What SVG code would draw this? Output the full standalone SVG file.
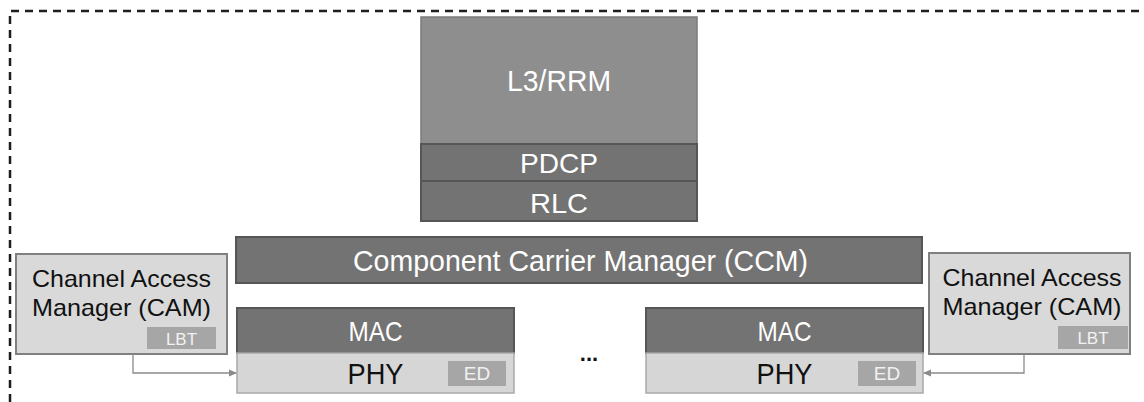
<svg xmlns="http://www.w3.org/2000/svg" width="1144" height="402" viewBox="0 0 1144 402">
<defs>
<style>
text{font-family:"Liberation Sans",Arial,sans-serif;text-anchor:middle}
.dark{fill:#737373;stroke:#565656;stroke-width:2}
.mid{fill:#8e8e8e;stroke:#7a7a7a;stroke-width:1.5}
.light{fill:#d9d9d9;stroke:#808080;stroke-width:2}
.phy{fill:#d6d6d6;stroke:#a9a9a9;stroke-width:1.5}
.tag{fill:#a6a6a6}
.w{fill:#ffffff}
.k{fill:#111111}
.tw{fill:#f2f2f2}
.conn{fill:none;stroke:#8a8a8a;stroke-width:1.3}
</style>
<marker id="arr" markerWidth="8" markerHeight="8" refX="7" refY="4" orient="auto" markerUnits="userSpaceOnUse">
<path d="M0,0.5 L8,4 L0,7.5 Z" fill="#8a8a8a"/>
</marker>
</defs>
<rect width="1144" height="402" fill="#ffffff"/>
<path id="frame" d="M10,402 V11 H1144" fill="none" stroke="#1e1e1e" stroke-width="2.5" stroke-dasharray="8 6"/>

<g id="l3rrm">
<rect class="mid" x="421" y="17" width="276" height="127"/>
<text class="w" x="559" y="91" font-size="29" textLength="104" lengthAdjust="spacingAndGlyphs">L3/RRM</text>
</g>
<g id="pdcp">
<rect class="dark" x="421" y="144" width="276" height="37"/>
<text class="w" x="559" y="173" font-size="28" textLength="78" lengthAdjust="spacingAndGlyphs">PDCP</text>
</g>
<g id="rlc">
<rect class="dark" x="421" y="181" width="276" height="40"/>
<text class="w" x="559" y="213" font-size="28" textLength="58" lengthAdjust="spacingAndGlyphs">RLC</text>
</g>
<g id="ccm">
<rect class="dark" x="236" y="237" width="686" height="46"/>
<text class="w" x="580.5" y="271" font-size="29" textLength="455" lengthAdjust="spacingAndGlyphs">Component Carrier Manager (CCM)</text>
</g>

<g id="cam-left">
<rect class="light" x="16" y="254" width="211" height="100"/>
<text class="k" x="121.5" y="287" font-size="24" textLength="179" lengthAdjust="spacingAndGlyphs">Channel Access</text>
<text class="k" x="121.5" y="316" font-size="24" textLength="179" lengthAdjust="spacingAndGlyphs">Manager (CAM)</text>
<rect class="tag" x="147" y="327" width="69" height="22"/>
<text class="tw" x="181.5" y="345" font-size="17">LBT</text>
</g>
<g id="cam-right">
<rect class="light" x="929" y="253" width="201" height="101"/>
<text class="k" x="1032" y="286" font-size="24" textLength="179" lengthAdjust="spacingAndGlyphs">Channel Access</text>
<text class="k" x="1032" y="315" font-size="24" textLength="179" lengthAdjust="spacingAndGlyphs">Manager (CAM)</text>
<rect class="tag" x="1058" y="326" width="70" height="23"/>
<text class="tw" x="1093" y="344" font-size="17">LBT</text>
</g>

<g id="mac-left">
<rect class="dark" x="237" y="308" width="277" height="45"/>
<text class="w" x="375.5" y="341" font-size="28" textLength="54" lengthAdjust="spacingAndGlyphs">MAC</text>
</g>
<g id="phy-left">
<rect class="phy" x="237" y="353" width="277" height="40"/>
<text class="k" x="375.5" y="384" font-size="29" textLength="56" lengthAdjust="spacingAndGlyphs">PHY</text>
<rect class="tag" x="448" y="361" width="58" height="25"/>
<text class="tw" x="477" y="380" font-size="19">ED</text>
</g>
<g id="mac-right">
<rect class="dark" x="646" y="308" width="277" height="45"/>
<text class="w" x="784.5" y="341" font-size="28" textLength="54" lengthAdjust="spacingAndGlyphs">MAC</text>
</g>
<g id="phy-right">
<rect class="phy" x="646" y="353" width="277" height="40"/>
<text class="k" x="784.5" y="384" font-size="29" textLength="56" lengthAdjust="spacingAndGlyphs">PHY</text>
<rect class="tag" x="858" y="361" width="58" height="25"/>
<text class="tw" x="887" y="380" font-size="19">ED</text>
</g>
<g id="ellipsis">
<text class="k" x="589" y="361" font-size="22" font-weight="bold">...</text>
</g>

<g id="connectors">
<path class="conn" d="M133,354 V373 H236" marker-end="url(#arr)"/>
<path class="conn" d="M1024,354 V373 H924" marker-end="url(#arr)"/>
</g>
</svg>
